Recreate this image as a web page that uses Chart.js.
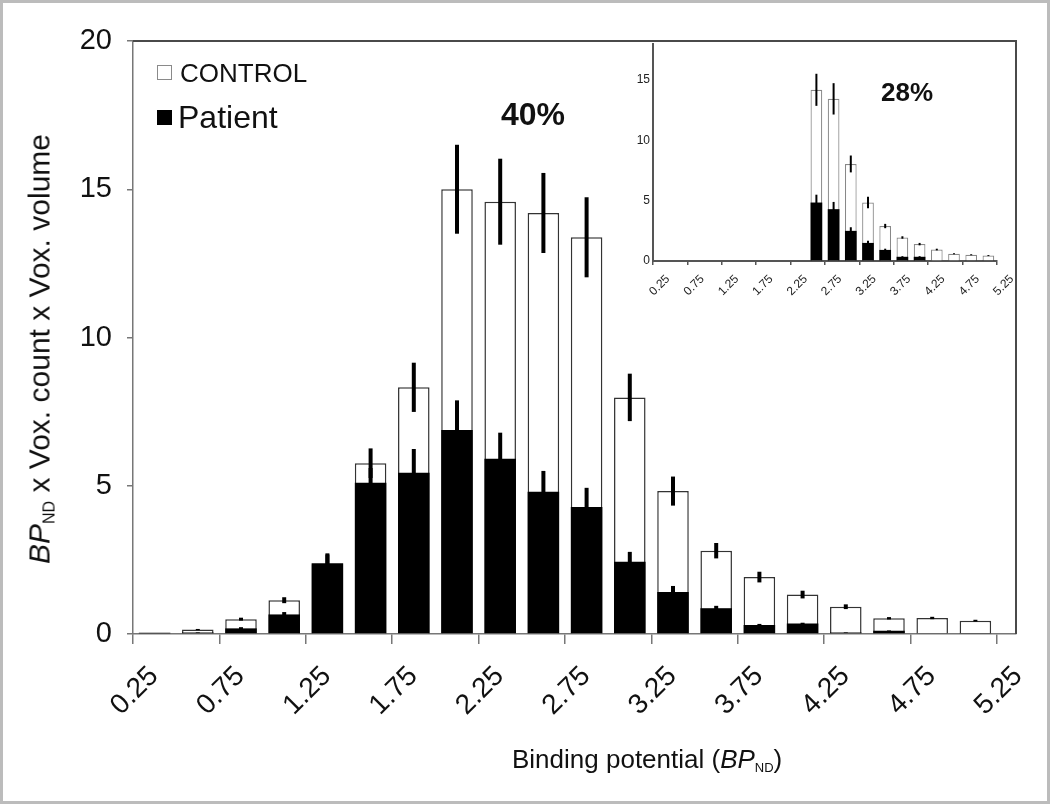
<!DOCTYPE html>
<html>
<head>
<meta charset="utf-8">
<title>BPND histogram</title>
<script src="https://cdn.jsdelivr.net/npm/chart.js@4.4.1/dist/chart.umd.min.js"></script>
<style>
  html, body { margin: 0; padding: 0; background: #fff; }
  #page { position: relative; width: 1050px; height: 804px; overflow: hidden; font-family: "Liberation Sans", Arial, sans-serif; color: #111; }
  #page canvas { position: absolute; }
  #main-canvas { left: 0; top: 0; }
  #inset-canvas { left: 590px; top: 30px; }
  .outer-border { position: absolute; left: 0; top: 0; width: 1050px; height: 804px; box-sizing: border-box; border: 3px solid #bcbcbc; pointer-events: none; }
  .txt { position: absolute; white-space: nowrap; line-height: 1; }
  .box { position: absolute; width: 15px; height: 15px; box-sizing: border-box; }
  #y-title { font-size: 30px; left: 41px; top: 349px; transform: translate(-50%, -50%) rotate(-90deg); }
  #y-title .sub { font-size: 16px; vertical-align: -5px; }
  #x-title { font-size: 26px; left: 512px; top: 746px; }
  #x-title .sub { font-size: 13px; vertical-align: -4px; }
</style>
</head>
<body>
<div id="page">
  <canvas id="main-canvas" width="1050" height="804"></canvas>
  <canvas id="inset-canvas" width="440" height="300"></canvas>

  <!-- legend -->
  <div class="box" style="left:157px; top:65px; border:1.5px solid #8a8a8a; background:#fff;"></div>
  <div class="txt" style="left:180px; top:60px; font-size:26px;">CONTROL</div>
  <div class="box" style="left:157px; top:110px; background:#000;"></div>
  <div class="txt" style="left:178px; top:101px; font-size:32px;">Patient</div>

  <!-- percentages -->
  <div class="txt" style="left:533px; top:98px; font-size:32px; font-weight:bold; transform:translateX(-50%);">40%</div>
  <div class="txt" style="left:907px; top:79px; font-size:26px; font-weight:bold; transform:translateX(-50%);">28%</div>

  <!-- axis titles -->
  <div class="txt" id="y-title"><i>BP</i><span class="sub">ND</span> x Vox. count x Vox. volume</div>
  <div class="txt" id="x-title">Binding potential (<i>BP</i><span class="sub">ND</span>)</div>

  <div class="outer-border"></div>
</div>

<script>
// bins (lower edge) and x tick labels
const binStarts = [0.25, 0.5, 0.75, 1.0, 1.25, 1.5, 1.75, 2.0, 2.25, 2.5, 2.75, 3.0, 3.25, 3.5, 3.75, 4.0, 4.25, 4.5, 4.75, 5.0];
const binWidth = 0.25;
const tickLabels = ["0.25", "0.75", "1.25", "1.75", "2.25", "2.75", "3.25", "3.75", "4.25", "4.75", "5.25"];

// main chart (40%)
const controlMain = [0.03, 0.15, 0.5, 1.14, 2.35, 5.76, 8.32, 15.0, 14.58, 14.2, 13.38, 7.98, 4.82, 2.81, 1.92, 1.33, 0.92, 0.53, 0.54, 0.45];
const controlMainErr = [0, 0.02, 0.05, 0.1, 0.33, 0.5, 0.83, 1.5, 1.45, 1.35, 1.35, 0.8, 0.49, 0.26, 0.18, 0.13, 0.08, 0.04, 0.04, 0.03];
const patientMain = [0.04, 0.05, 0.19, 0.66, 2.39, 5.1, 5.44, 6.88, 5.91, 4.8, 4.28, 2.44, 1.42, 0.87, 0.3, 0.35, 0.05, 0.11, 0.03, 0.02];
const patientMainErr = [0, 0.01, 0.04, 0.08, 0.33, 0.5, 0.8, 1.0, 0.88, 0.7, 0.65, 0.33, 0.2, 0.08, 0.04, 0.03, 0.01, 0.01, 0, 0];

// inset chart (28%)
const controlInset = [0, 0, 0, 0, 0, 0, 0, 0, 0, 14.2, 13.45, 8.05, 4.85, 2.9, 1.95, 1.4, 0.95, 0.6, 0.52, 0.45];
const controlInsetErr = [0, 0, 0, 0, 0, 0, 0, 0, 0, 1.33, 1.3, 0.7, 0.47, 0.18, 0.1, 0.1, 0.07, 0.05, 0.04, 0.04];
const patientInset = [0, 0, 0, 0, 0, 0, 0, 0, 0, 4.85, 4.3, 2.5, 1.5, 0.92, 0.35, 0.35, 0.05, 0.03, 0.02, 0.02];
const patientInsetErr = [0, 0, 0, 0, 0, 0, 0, 0, 0, 0.65, 0.6, 0.3, 0.18, 0.1, 0.05, 0.05, 0, 0, 0, 0];

const FONT = "Liberation Sans";

// bars sit in the middle of each bin
function barData(values) {
  return binStarts.map((b, i) => ({ x: b + binWidth / 2, y: values[i] }));
}

// error bars as thin floating bars [value - err, value + err]
function errData(values, errs) {
  return binStarts.map((b, i) => ({ x: b + binWidth / 2, y: [values[i] - errs[i], values[i] + errs[i]] }));
}

function setTicks(axis) {
  axis.ticks = tickLabels.map((t) => ({ value: parseFloat(t) }));
}

// top + right border of the plot area
const frameLines = {
  id: "frameLines",
  afterDatasetsDraw(chart) {
    const { ctx, chartArea } = chart;
    ctx.save();
    ctx.strokeStyle = "#4a4a4a";
    ctx.lineWidth = 2;
    ctx.beginPath();
    ctx.moveTo(chartArea.left, chartArea.top);
    ctx.lineTo(chartArea.right, chartArea.top);
    ctx.lineTo(chartArea.right, chartArea.bottom);
    ctx.stroke();
    ctx.restore();
  },
};

function makeDatasets(control, controlErr, patient, patientErr, s) {
  return [
    {
      label: "CONTROL",
      data: barData(control),
      backgroundColor: "#ffffff",
      borderColor: s.outline,
      borderWidth: s.outlineWidth,
      grouped: false,
      barPercentage: s.barPct,
      categoryPercentage: 1,
      order: 4,
    },
    {
      label: "CONTROL error",
      data: errData(control, controlErr),
      backgroundColor: "#000000",
      grouped: false,
      maxBarThickness: s.errWidth,
      order: 3,
    },
    {
      label: "Patient",
      data: barData(patient),
      backgroundColor: "#000000",
      borderWidth: 0,
      grouped: false,
      barPercentage: s.barPct,
      categoryPercentage: 1,
      order: 2,
    },
    {
      label: "Patient error",
      data: errData(patient, patientErr),
      backgroundColor: "#000000",
      grouped: false,
      maxBarThickness: s.errWidth,
      order: 1,
    },
  ];
}

// main chart
new Chart(document.getElementById("main-canvas"), {
  type: "bar",
  data: {
    datasets: makeDatasets(controlMain, controlMainErr, patientMain, patientMainErr, {
      outline: "#333333",
      outlineWidth: 1.5,
      barPct: 0.73,
      errWidth: 4,
    }),
  },
  options: {
    responsive: false,
    animation: false,
    events: [],
    layout: { padding: { left: 0, top: 41, right: 34, bottom: 0 } },
    plugins: { legend: { display: false }, tooltip: { enabled: false } },
    scales: {
      x: {
        type: "linear",
        min: 0.25,
        max: 5.36,
        offset: false,
        afterBuildTicks: setTicks,
        afterFit: (scale) => {
          scale.height = 170;
        },
        grid: { offset: false, drawOnChartArea: false, tickLength: 10, color: "#777", lineWidth: 1.5 },
        border: { color: "#777", width: 1.5 },
        ticks: {
          autoSkip: false,
          minRotation: 45,
          maxRotation: 45,
          padding: 16,
          labelOffset: 21,
          color: "#111",
          font: { family: FONT, size: 28 },
          callback: (value, index) => tickLabels[index],
        },
      },
      y: {
        min: 0,
        max: 20,
        afterFit: (scale) => {
          scale.width = 133;
        },
        grid: { drawOnChartArea: false, tickLength: 6, color: "#777", lineWidth: 1.5 },
        border: { color: "#777", width: 1.5 },
        ticks: { stepSize: 5, padding: 15, color: "#111", font: { family: FONT, size: 29 } },
      },
    },
  },
  plugins: [frameLines],
});

// inset chart
new Chart(document.getElementById("inset-canvas"), {
  type: "bar",
  data: {
    datasets: makeDatasets(controlInset, controlInsetErr, patientInset, patientInsetErr, {
      outline: "#888888",
      outlineWidth: 1.2,
      barPct: 0.68,
      errWidth: 2,
    }),
  },
  options: {
    responsive: false,
    animation: false,
    events: [],
    layout: { padding: { left: 0, top: 14, right: 33, bottom: 0 } },
    plugins: { legend: { display: false }, tooltip: { enabled: false } },
    scales: {
      x: {
        type: "linear",
        min: 0.25,
        max: 5.25,
        offset: false,
        afterBuildTicks: setTicks,
        afterFit: (scale) => {
          scale.height = 69;
        },
        grid: { offset: false, drawOnChartArea: false, tickLength: 4, color: "#555", lineWidth: 1.5 },
        border: { color: "#555", width: 2 },
        ticks: {
          autoSkip: false,
          minRotation: 45,
          maxRotation: 45,
          padding: 7,
          labelOffset: 15,
          color: "#222",
          font: { family: FONT, size: 12 },
          callback: (value, index) => tickLabels[index],
        },
      },
      y: {
        min: 0,
        max: 18,
        afterFit: (scale) => {
          scale.width = 63;
        },
        grid: { drawOnChartArea: false, drawTicks: false },
        border: { color: "#555", width: 2 },
        ticks: { stepSize: 5, includeBounds: false, padding: 3, color: "#222", font: { family: FONT, size: 12 } },
      },
    },
  },
});
</script>
</body>
</html>
